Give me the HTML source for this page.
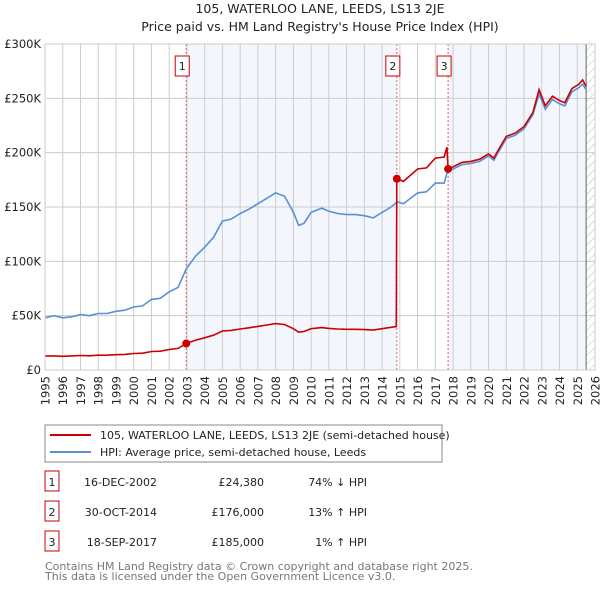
<!DOCTYPE html>
<html><head><meta charset="utf-8"><style>
body{margin:0;background:#fff;font-family:"Liberation Sans","DejaVu Sans",sans-serif;}
svg text{font-family:"DejaVu Sans","Liberation Sans",sans-serif;}
</style></head><body>
<svg id="c" width="600" height="590" xmlns="http://www.w3.org/2000/svg">
<defs><pattern id="hatch" width="6" height="6" patternUnits="userSpaceOnUse" patternTransform="rotate(45)"><line x1="0" y1="0" x2="0" y2="6" stroke="#bbb" stroke-width="1"/></pattern></defs>
<text x="320" y="13" text-anchor="middle" font-size="12.5" fill="#222">105, WATERLOO LANE, LEEDS, LS13 2JE</text>
<text x="320" y="31" text-anchor="middle" font-size="12.5" fill="#222">Price paid vs. HM Land Registry's House Price Index (HPI)</text>
<g id="plot"></g>
<rect x="45" y="425" width="397" height="37" fill="#fff" stroke="#888"/>
<line x1="50" y1="435" x2="91" y2="435" stroke="#cc0000" stroke-width="2"/>
<text x="100" y="439" font-size="11" fill="#222">105, WATERLOO LANE, LEEDS, LS13 2JE (semi-detached house)</text>
<line x1="50" y1="452" x2="91" y2="452" stroke="#5b8fd4" stroke-width="2"/>
<text x="100" y="456" font-size="11" fill="#222">HPI: Average price, semi-detached house, Leeds</text>
<g id="tbl" font-size="11" fill="#222"></g>
<text x="45" y="570" font-size="11" fill="#777">Contains HM Land Registry data © Crown copyright and database right 2025.</text>
<text x="45" y="580" font-size="11" fill="#777">This data is licensed under the Open Government Licence v3.0.</text>
</svg>
<script>
const years=[1995,1995.5,1996,1996.5,1997,1997.5,1998,1998.5,1999,1999.5,2000,2000.5,2001,2001.5,2002,2002.5,2002.96,2003.5,2004,2004.5,2005,2005.5,2006,2006.5,2007,2007.5,2008,2008.5,2009,2009.3,2009.6,2010,2010.6,2011,2011.5,2012,2012.5,2013,2013.5,2014,2014.5,2014.8,2014.83,2015.2,2016,2016.5,2017,2017.5,2017.65,2017.72,2018,2018.5,2019,2019.5,2020,2020.3,2020.5,2021,2021.5,2022,2022.5,2022.85,2023.2,2023.6,2024,2024.3,2024.7,2025.1,2025.3,2025.5];
const hpi=[48,50,48,49,51,50,52,52,54,55,58,59,65,66,72,76,93,105,113,122,137,139,144,148,153,158,163,160,145,133,135,145,149,146,144,143,143,142,140,145,150,154,155,153,163,164,172,172,181,183,185,189,190,192,197,193,199,213,216,222,235,254,240,249,245,243,256,260,263,258];
const price=[13,13,12.6,13,13.3,13.1,13.6,13.6,14.1,14.4,15.2,15.5,17,17.3,18.9,19.9,24.4,27.5,29.6,32,35.9,36.4,37.7,38.8,40.1,41.4,42.7,41.9,38,34.8,35.4,38,39,38.3,37.7,37.5,37.5,37.2,36.7,38,39.3,40,176,173.6,185,186,195,196,205,185,187,191,192,194,199,195,201,215,218,224,237,258,243,252,248,246,259,263,267,261];
const yTicks=[0,50,100,150,200,250,300];
const yTickLabels=["£0","£50K","£100K","£150K","£200K","£250K","£300K"];
const xTicks=[1995,1996,1997,1998,1999,2000,2001,2002,2003,2004,2005,2006,2007,2008,2009,2010,2011,2012,2013,2014,2015,2016,2017,2018,2019,2020,2021,2022,2023,2024,2025,2026];
const saleYears=[2002.96,2014.83,2017.72];
const salePrices=[24.38,176,185];
const saleLabels=["1","2","3"];
const saleDates=["16-DEC-2002","30-OCT-2014","18-SEP-2017"];
const salePriceText=["£24,380","£176,000","£185,000"];
const saleHpiText=["74% ↓ HPI","13% ↑ HPI","1% ↑ HPI"];

const X0=45,X1=595,Y0=370,Y1=44;
const x=v=>X0+(v-1995)/(2026-1995)*(X1-X0);
const y=v=>Y0-v/300*(Y0-Y1);
const NS="http://www.w3.org/2000/svg";
const plot=document.getElementById('plot');
function mk(t,a,p){const e=document.createElementNS(NS,t);for(const k in a)e.setAttribute(k,a[k]);(p||plot).appendChild(e);return e;}
let r=mk('rect',{x:x(saleYears[0]),y:Y1,width:x(saleYears[1])-x(saleYears[0]),height:Y0-Y1,fill:'#eef3fc',opacity:0.7});


r=mk('rect',{x:x(saleYears[2]),y:Y1,width:x(2025.5)-x(saleYears[2]),height:Y0-Y1,fill:'#eef3fc',opacity:0.7});


r=mk('rect',{x:x(2025.5),y:Y1,width:X1-x(2025.5),height:Y0-Y1,fill:'url(#hatch)'});


xTicks.forEach(t=>{const l=mk('line',{x1:x(t),x2:x(t),y1:Y1,y2:Y0,stroke:'#ccc'});


const tx=mk('text',{x:0,y:0,'text-anchor':'end','font-size':'11.5',fill:'#222',transform:'translate('+(x(t)+4.5).toFixed(1)+',376) rotate(-90)'});tx.textContent=t;

});
yTicks.forEach((t,i)=>{const l=mk('line',{x1:X0,x2:X1,y1:y(t),y2:y(t),stroke:'#ccc'});


const tx=mk('text',{x:41,y:y(t)+4,'text-anchor':'end','font-size':'11.5',fill:'#222'});tx.textContent=yTickLabels[i];

});
const ln=mk('line',{x1:x(2025.5),x2:x(2025.5),y1:Y1,y2:Y0,stroke:'#666'});


saleYears.forEach((s,i)=>{const l=mk('line',{x1:x(s),x2:x(s),y1:Y1,y2:Y0,stroke:'#e06060','stroke-dasharray':'2,2'});


const b=mk('rect',{x:x(s)-11,y:56,width:14,height:20,fill:'#fff',stroke:'#cc0000'});


const t=mk('text',{x:x(s)-4,y:70,'text-anchor':'middle','font-size':'11',fill:'#222'});t.textContent=saleLabels[i];

});
const path=arr=>years.map((yr,i)=>(i?'L':'M')+x(yr).toFixed(1)+','+y(arr[i]).toFixed(1)).join('');
const ph=mk('path',{d:path(hpi),fill:'none',stroke:'#5b8fd4','stroke-width':1.6});


const pp=mk('path',{d:path(price),fill:'none',stroke:'#cc0000','stroke-width':1.6});


saleYears.forEach((s,i)=>{const c=mk('circle',{cx:x(s),cy:y(salePrices[i]),r:4,fill:'#cc0000'});

});
const fr=mk('rect',{x:X0,y:Y1,width:X1-X0,height:Y0-Y1,fill:'none',stroke:'#ccc'});


const tbl=document.getElementById('tbl');
saleLabels.forEach((lab,i)=>{const yy=483+i*30;
const b=mk('rect',{x:45,y:yy-12,width:14,height:20,fill:'#fff',stroke:'#cc0000'},tbl);


const cells=[[52,lab,'middle'],[157,saleDates[i],'end'],[264,salePriceText[i],'end'],[367,saleHpiText[i],'end']];
const nm=['table-index','table-date','table-price','table-hpi-diff'];
cells.forEach((c,j)=>{const t=mk('text',{x:c[0],y:yy+3,'text-anchor':c[2]},tbl);t.textContent=c[1];

});});
</script>
</body></html>
